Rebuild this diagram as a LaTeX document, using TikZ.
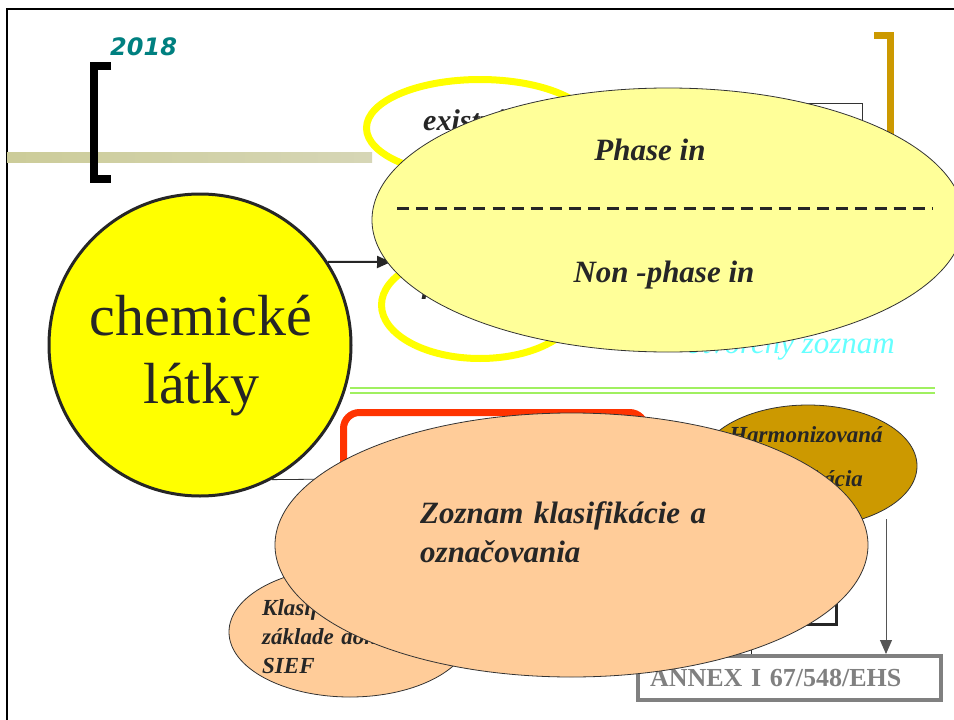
\documentclass[tikz,border=0pt]{standalone}
\usepackage{fontspec}
\setmainfont{Liberation Serif}
\newfontfamily\yearfont{DejaVu Sans}
\usetikzlibrary{shapes.geometric,arrows.meta}
\definecolor{textgray}{HTML}{262626}
\definecolor{edgegray}{HTML}{333333}
\definecolor{barolive}{HTML}{CCCC99}
\definecolor{barlight}{HTML}{D6D6B6}
\definecolor{yearteal}{HTML}{008080}
\definecolor{bracketgold}{HTML}{CC9900}
\definecolor{ringyellow}{HTML}{FFFF00}
\definecolor{paleyellow}{HTML}{FFFF99}
\definecolor{opencyan}{HTML}{66FFFF}
\definecolor{linegreen}{HTML}{A0F060}
\definecolor{redorange}{HTML}{FF3300}
\definecolor{harmgold}{HTML}{CC9900}
\definecolor{peach}{HTML}{FFCC99}
\definecolor{annexgray}{HTML}{808080}
\definecolor{arrowgray}{HTML}{555555}
\begin{document}
\begin{tikzpicture}[x=1pt,y=-1pt,
    txt/.style={text=textgray,font=\bfseries\itshape},
    bubble/.style={ellipse,draw=edgegray,line width=0.8pt,inner sep=0pt},
    ring/.style={ellipse,draw=ringyellow,line width=7pt,fill=white,inner sep=0pt},
    arr/.style={-{Triangle[length=14pt,width=12pt]}}]
    \useasboundingbox [fill=white] (0,0) rectangle (954,720);
    \draw [line width=2.5pt] (7,720) -- (7,9) -- (954,9);
    \shade [left color=barolive,right color=barlight] (7,152) rectangle (372,162);
    \draw [line width=8pt] (111,66) -- (94,66) -- (94,179) -- (111,179);
    \node [anchor=base west,inner sep=0pt,text=yearteal,font=\yearfont\bfseries\itshape\fontsize{24}{28}\selectfont] (year) at (110,55) {2018};
    \draw [bracketgold,line width=7pt] (874,35.5) -- (890.5,35.5) -- (890.5,185) -- (874,185);
    \draw [edgegray,line width=0.8pt] (760,103) rectangle (862,170);
    \node [ring,minimum width=227pt,minimum height=97pt] (exist) at (480,128) {};
    \node [ring,minimum width=197pt,minimum height=107pt] (nove) at (480,305) {};
    \node [txt,anchor=base west,inner sep=0pt,font=\bfseries\itshape\fontsize{30}{36}\selectfont] (existtxt) at (423,130) {existujúce};
    \node [txt,anchor=base west,inner sep=0pt,font=\bfseries\itshape\fontsize{30}{36}\selectfont] (novetxt) at (421,299) {nové};
    \node [anchor=base east,inner sep=0pt,text=opencyan,font=\itshape\fontsize{31}{36}\selectfont] (open) at (895,353) {otvorený zoznam};
    \node [circle,draw=textgray,line width=3pt,fill=ringyellow,minimum size=302pt,inner sep=0pt] (chem) at (200,345) {};
    \node [anchor=base,inner sep=0pt,text=textgray,font=\fontsize{58}{68}\selectfont] (chemtxt) at (201,335) {chemické};
    \node [anchor=base,inner sep=0pt,text=textgray,font=\fontsize{58}{68}\selectfont] (latky) at (201,403) {látky};
    \coordinate (tip) at (391,262);
    \draw [arr,textgray,line width=2pt] (chem.33) -- (tip);
    \node [bubble,fill=paleyellow,minimum width=592pt,minimum height=264pt] (phase) at (668,220) {};
    \draw [textgray,line width=3pt,dash pattern=on 12pt off 7.1pt] (397,208) -- (933,208);
    \node [txt,anchor=base,inner sep=0pt,font=\bfseries\itshape\fontsize{31}{36}\selectfont] (phasein) at (650,160) {Phase in};
    \node [txt,anchor=base,inner sep=0pt,font=\bfseries\itshape\fontsize{31}{36}\selectfont] (nonphase) at (664,282) {Non -phase in};
    \draw [linegreen,line width=2pt] (350,388) -- (935,388);
    \draw [linegreen,line width=2pt] (350,392.5) -- (935,392.5);
    \node [draw=redorange,line width=7pt,fill=white,rounded corners=16pt,minimum width=302pt,minimum height=133pt,inner sep=0pt] (redbox) at (494.5,479) {};
    \draw [edgegray,line width=0.8pt] (chem.-62) -- (redbox.west);
    \node [bubble,fill=harmgold,minimum width=218pt,minimum height=122pt] (harm) at (808,466) {};
    \node [txt,anchor=base,inner sep=0pt,font=\bfseries\itshape\fontsize{23}{28}\selectfont] (harmtxt) at (806,442) {Harmonizovaná};
    \node [txt,anchor=base,inner sep=0pt,font=\bfseries\itshape\fontsize{23}{28}\selectfont] (klastxt) at (808,486) {klasifikácia};
    \node [draw=textgray,line width=3pt,minimum width=170pt,minimum height=64.5pt,inner sep=0pt] (klasbox) at (751,592.25) {};
    \node [draw=annexgray,line width=4pt,fill=white,minimum width=303pt,minimum height=44pt,text width=279pt,inner xsep=12pt,inner ysep=0pt,align=left,text=annexgray,font=\bfseries\fontsize{26}{30}\selectfont] (annex) at (789.5,678) {ANNEX I 67/548/EHS};
    \draw [textgray,line width=0.8pt] (klasbox.south) -- (klasbox.south |- annex.north);
    \coordinate (harmfoot) at (886,519);
    \draw [arr,arrowgray,line width=1pt] (harmfoot) -- (harmfoot |- annex.north);
    \node [bubble,fill=peach,minimum width=242pt,minimum height=130pt] (sief) at (350,632) {};
    \node [txt,anchor=base west,inner sep=0pt,text width=200pt,align=left,font=\bfseries\itshape\fontsize{23}{29}\selectfont] (sieftxt) at (262,615) {Klasifikácia na\\základe dohody v\\SIEF};
    \node [bubble,fill=peach,minimum width=593pt,minimum height=264pt] (zoznam) at (571.5,545) {};
    \node [txt,anchor=base west,inner sep=0pt,text width=320pt,align=left,font=\bfseries\itshape\fontsize{31}{39}\selectfont] (zoztxt) at (420,523) {Zoznam klasifikácie a\\označovania};
\end{tikzpicture}
\end{document}
